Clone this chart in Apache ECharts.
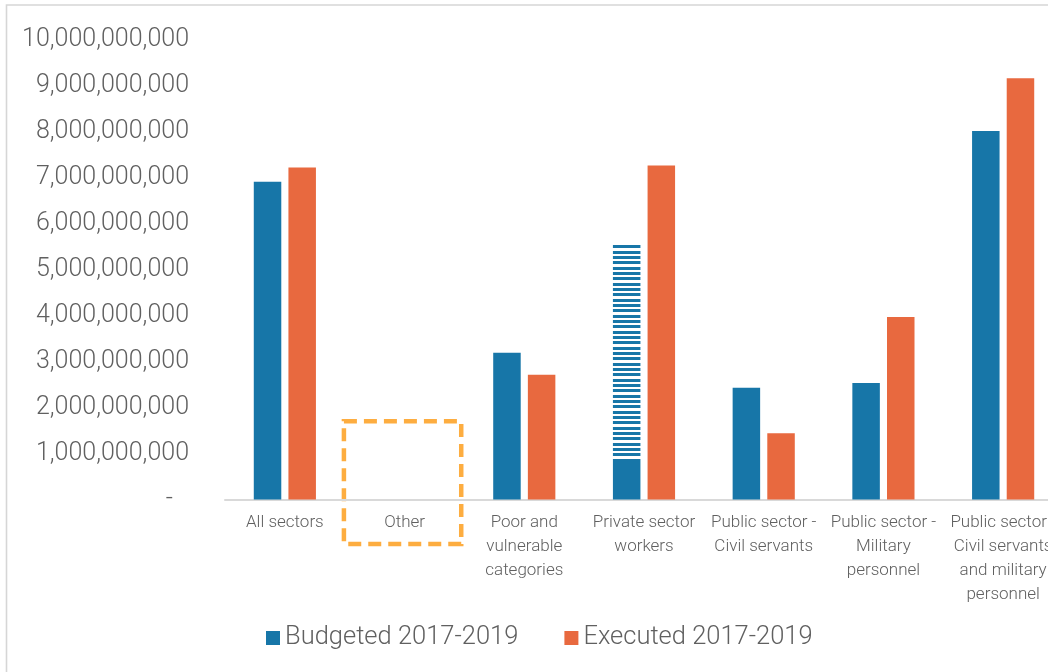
<!DOCTYPE html>
<html>
<head>
<meta charset="utf-8">
<script src="https://cdn.jsdelivr.net/npm/echarts@6/dist/echarts.min.js"></script>
<style>
  html, body { margin: 0; padding: 0; background: #fff; }
  #chart { width: 1048px; height: 672px; }
</style>
</head>
<body>
<div id="chart"></div>
<script>
// Social protection spending by beneficiary group
const categories = [
  'All sectors',
  'Other',
  'Poor and\nvulnerable\ncategories',
  'Private sector\nworkers',
  'Public sector -\nCivil servants',
  'Public sector -\nMilitary\npersonnel',
  'Public sector -\nCivil servants\nand military\npersonnel'
];
const budgeted = [6.91e9, null, 3.19e9, 0.88e9, 2.43e9, 2.53e9, 8.01e9];
// portion of the private-sector budget shown hatched, stacked on top of the solid part
const budgetedHatched = [null, null, null, 4.67e9, null, null, null];
const executed = [7.22e9, null, 2.71e9, 7.26e9, 1.44e9, 3.97e9, 9.16e9];
const seriesNames = ['Budgeted 2017-2019', 'Executed 2017-2019'];
// annotated category and the value reached by the top of its outline
const highlightCategory = 'Other';
const highlightTop = 1.7e9;

const BLUE = '#1776A8';
const ORANGE = '#E8693F';
const FONT = 'Roboto, "DejaVu Sans Condensed", sans-serif';
const WEIGHT = 300;
const TEXT = '#606060';

// horizontal stripe fill for the hatched segment
function stripePattern(color) {
  const c = document.createElement('canvas');
  c.width = 4; c.height = 16;
  const ctx = c.getContext('2d');
  ctx.fillStyle = color;
  [[0, 3], [5, 3], [11, 3]].forEach(([y, h]) => ctx.fillRect(0, y, 4, h));
  return { image: c, repeat: 'repeat' };
}

const chart = echarts.init(document.getElementById('chart'), null, { renderer: 'canvas' });

chart.setOption({
  animation: false,
  textStyle: { fontFamily: FONT, fontWeight: WEIGHT },
  grid: {
    left: 225, right: -15, top: 39.5, bottom: 172.5,
    containLabel: false,
    outerBoundsMode: 'none'
  },
  legend: {
    data: seriesNames,
    left: 261,
    top: 620,
    icon: 'rect',
    itemWidth: 14,
    itemHeight: 14,
    itemGap: 46,
    textStyle: { fontFamily: FONT, fontWeight: WEIGHT, fontSize: 25.5, color: TEXT }
  },
  xAxis: {
    type: 'category',
    data: categories,
    axisLine: { lineStyle: { color: '#d9d9d9', width: 2 } },
    axisTick: { show: false },
    axisLabel: {
      interval: 0,
      margin: 11,
      fontFamily: FONT,
      fontWeight: WEIGHT,
      fontSize: 17,
      lineHeight: 24,
      color: TEXT
    }
  },
  yAxis: {
    type: 'value',
    min: 0,
    max: 10e9,
    interval: 1e9,
    axisLine: { show: false },
    axisTick: { show: false },
    splitLine: { show: false },
    axisLabel: {
      margin: 36,
      fontFamily: FONT,
      fontWeight: WEIGHT,
      fontSize: 25,
      color: TEXT,
      formatter: v => v === 0 ? '{z|-}' : v.toLocaleString('en-US'),
      rich: { z: { fontFamily: FONT, fontWeight: WEIGHT, fontSize: 25, color: TEXT, padding: [0, 16, 0, 0] } }
    }
  },
  series: [
    {
      name: seriesNames[0],
      type: 'bar',
      stack: 'budget',
      data: budgeted,
      barWidth: 27.5,
      barGap: '26%',
      itemStyle: { color: BLUE }
    },
    {
      name: 'Budgeted (hatched)',
      type: 'bar',
      stack: 'budget',
      data: budgetedHatched,
      barWidth: 27.5,
      barGap: '26%',
      itemStyle: { color: stripePattern(BLUE) }
    },
    {
      name: seriesNames[1],
      type: 'bar',
      data: executed,
      barWidth: 27.5,
      barGap: '26%',
      itemStyle: { color: ORANGE }
    }
  ]
});

// outer frame and the dashed outline around the highlighted category
function drawOverlays() {
  const idx = categories.indexOf(highlightCategory);
  const [cx, yTop] = chart.convertToPixel({ xAxisIndex: 0, yAxisIndex: 0 }, [idx, highlightTop]);
  const [, yZero] = chart.convertToPixel({ xAxisIndex: 0, yAxisIndex: 0 }, [idx, 0]);
  const [nx] = chart.convertToPixel({ xAxisIndex: 0, yAxisIndex: 0 }, [idx + 1, 0]);
  const band = nx - cx;
  const halfW = band * 0.49;
  chart.setOption({
    graphic: [
      {
        type: 'rect',
        silent: true,
        shape: { x: 6.5, y: 5, width: 1200, height: 1000 },
        style: { fill: 'none', stroke: '#d6d6d6', lineWidth: 1.6 }
      },
      {
        type: 'rect',
        silent: true,
        shape: { x: cx - halfW - 2, y: yTop, width: halfW * 2, height: (yZero - yTop) + 44.5 },
        style: { fill: 'none', stroke: '#FDAD40', lineWidth: 4.5, lineDash: [13, 7] }
      }
    ]
  });
}
drawOverlays();
</script>
</body>
</html>
